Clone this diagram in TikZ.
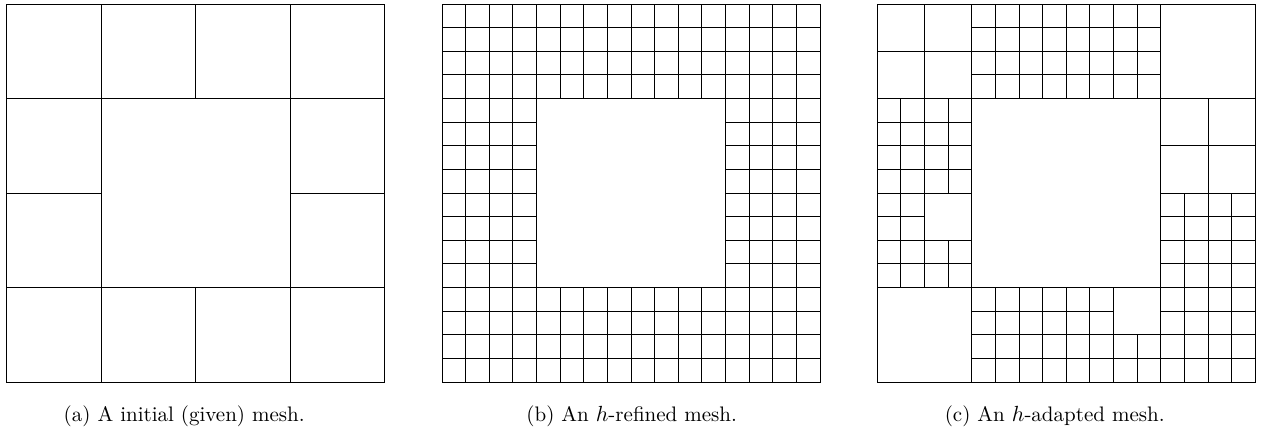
\documentclass[tikz,border=0pt]{standalone}
\begin{document}
\begin{tikzpicture}[x=0.5pt,y=-0.5pt,
  meshline/.style={line width=0.5pt,black},
  captext/.style={anchor=base,inner sep=0pt,font=\fontsize{10.5}{12}\selectfont}]
\useasboundingbox (0,0) rectangle (1263,428);
% ---------- panel (a)
\begin{scope}[shift={(6.7,4)},x=11.8125pt,y=-11.8125pt,meshline]
  \draw (0,0) rectangle (16,16);
  \draw (0,4) -- (16,4) (0,12) -- (16,12);
  \draw (4,0) -- (4,16) (12,0) -- (12,16);
  \draw (0,8) -- (4,8) (12,8) -- (16,8);
  \draw (8,0) -- (8,4) (8,12) -- (8,16);
\end{scope}
% ---------- panel (b)
\begin{scope}[shift={(442,4)},x=11.8125pt,y=-11.8125pt,meshline]
  \draw (0,0) rectangle (16,16);
  \foreach \i in {1,2,3,4,12,13,14,15}{
    \draw (0,\i) -- (16,\i);
    \draw (\i,0) -- (\i,16);
  }
  \foreach \i in {5,...,11}{
    \draw (0,\i) -- (4,\i) (12,\i) -- (16,\i);
    \draw (\i,0) -- (\i,4) (\i,12) -- (\i,16);
  }
\end{scope}
% ---------- panel (c)
\begin{scope}[shift={(877.3,4)},x=11.8125pt,y=-11.8125pt,meshline]
  \draw (0,0) rectangle (16,16);
  % coarse boundaries
  \draw (4,0) -- (4,16) (12,0) -- (12,16);
  \draw (0,4) -- (16,4) (0,12) -- (16,12);
  \draw (0,8) -- (4,8) (12,8) -- (16,8);
  % top-left 2x2
  \draw (2,0) -- (2,4) (0,2) -- (4,2);
  % top-middle fine
  \foreach \i in {5,...,11}{\draw (\i,0) -- (\i,4);}
  \foreach \j in {1,2,3}{\draw (4,\j) -- (12,\j);}
  % left column
  \draw (1,4) -- (1,12) (2,4) -- (2,12) (3,4) -- (3,8) (3,10) -- (3,12);
  \draw (0,5) -- (4,5) (0,6) -- (4,6) (0,7) -- (4,7);
  \draw (0,9) -- (2,9) (0,10) -- (4,10) (0,11) -- (4,11);
  % right column
  \draw (14,4) -- (14,16) (12,6) -- (16,6);
  \draw (13,8) -- (13,16) (15,8) -- (15,16);
  \draw (12,9) -- (16,9) (12,10) -- (16,10) (12,11) -- (16,11);
  % bottom row
  \foreach \i in {5,...,10}{\draw (\i,12) -- (\i,16);}
  \draw (11,14) -- (11,16);
  \draw (4,13) -- (10,13) (12,13) -- (16,13);
  \draw (4,14) -- (16,14) (4,15) -- (16,15);
\end{scope}
% ---------- captions
\node[captext] (capa) at (184.2,421) {(a) A initial (given) mesh.};
\node[captext] (capb) at (631.7,421) {(b) An $h$-refined mesh.};
\node[captext] (capc) at (1054.7,421) {(c) An $h$-adapted mesh.};
\end{tikzpicture}
\end{document}
